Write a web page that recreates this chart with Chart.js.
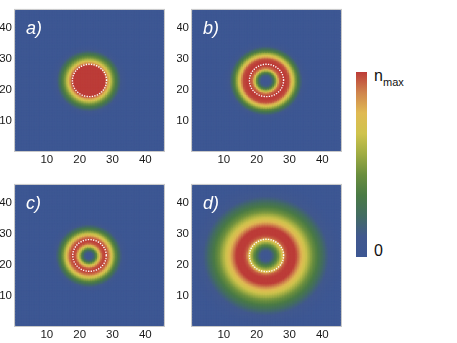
<!DOCTYPE html>
<html>
<head>
<meta charset="utf-8">
<script src="https://cdn.jsdelivr.net/npm/chart.js@4.4.1/dist/chart.umd.min.js"></script>
<style>
  body { margin: 0; background: #fff; }
  #wrap { position: relative; width: 457px; height: 343px; overflow: hidden; font-family: "Liberation Sans", Arial, sans-serif; }
  #wrap canvas { position: absolute; }
  .cb-label { position: absolute; color: #111; white-space: nowrap; }
</style>
</head>
<body>
<div id="wrap">
  <canvas id="panelA" width="167" height="168" style="left:0px;top:0px"></canvas>
  <canvas id="panelB" width="167" height="168" style="left:177px;top:0px"></canvas>
  <canvas id="panelC" width="167" height="168" style="left:0px;top:175px"></canvas>
  <canvas id="panelD" width="167" height="168" style="left:177px;top:175px"></canvas>
  <canvas id="colorBar" width="11" height="185" style="left:356px;top:72px"></canvas>
  <div class="cb-label" style="left:374px;top:68px;font-size:16px;line-height:16px">n</div>
  <div class="cb-label" style="left:383px;top:77px;font-size:11px;line-height:11px">max</div>
  <div class="cb-label" style="left:374px;top:243px;font-size:16px;line-height:16px">0</div>
</div>
<script>
// Radial density profiles (fraction of n_max)
const radii    = [0, 1, 2, 3, 4, 5, 6, 7, 8, 9, 10, 11, 12, 13, 14, 15, 16, 17, 18, 19, 20, 21, 22, 23, 24];
const densityA = [1, 1, 1, 1, 1, 1, 0.8, 0.55, 0.38, 0.22, 0.09, 0.03, 0, 0, 0, 0, 0, 0, 0, 0, 0, 0, 0, 0, 0];
const densityB = [0.04, 0.07, 0.18, 0.5, 0.92, 1, 1, 0.97, 0.74, 0.5, 0.28, 0.12, 0.04, 0.01, 0, 0, 0, 0, 0, 0, 0, 0, 0, 0, 0];
const densityC = [0.03, 0.08, 0.3, 0.68, 0.96, 1, 0.92, 0.68, 0.45, 0.26, 0.12, 0.04, 0.01, 0, 0, 0, 0, 0, 0, 0, 0, 0, 0, 0, 0];
const densityD = [0.03, 0.06, 0.15, 0.32, 0.5, 0.72, 0.95, 1, 1, 1, 0.9, 0.78, 0.68, 0.58, 0.48, 0.4, 0.32, 0.25, 0.18, 0.12, 0.08, 0.05, 0.03, 0.01, 0];

const panelLabels = ["a)", "b)", "c)", "d)"];
const ringRadius = [5.2, 5.2, 5.1, 5.2];
const tickValues = [10, 20, 30, 40];
const gridSize = 45;     // lattice sites per side
const siteCenter = 23;   // centre of the condensate
const colorBarValue = [1];

// DarkRainbow-like colour map
const colorStops = [
  [0.000, [61, 87, 147]],
  [0.111, [65, 88, 142]],
  [0.222, [67, 108, 98]],
  [0.333, [74, 122, 69]],
  [0.444, [106, 142, 62]],
  [0.556, [159, 172, 67]],
  [0.667, [207, 195, 77]],
  [0.778, [224, 186, 83]],
  [0.889, [207, 132, 77]],
  [1.000, [188, 60, 56]]
];

function colorFor(v) {
  v = Math.max(0, Math.min(1, v));
  for (let i = 1; i < colorStops.length; i++) {
    const [p1, c1] = colorStops[i];
    const [p0, c0] = colorStops[i - 1];
    if (v <= p1) {
      const t = (v - p0) / (p1 - p0);
      const c = c0.map((a, k) => Math.round(a + (c1[k] - a) * t));
      return `rgb(${c[0]},${c[1]},${c[2]})`;
    }
  }
  const c = colorStops[colorStops.length - 1][1];
  return `rgb(${c[0]},${c[1]},${c[2]})`;
}

function profileAt(profile, r) {
  const last = radii.length - 1;
  if (r >= radii[last]) return profile[last];
  let i = 0;
  while (radii[i + 1] < r) i++;
  const t = (r - radii[i]) / (radii[i + 1] - radii[i]);
  return profile[i] + (profile[i + 1] - profile[i]) * t;
}

const framePlugin = {
  id: "frame",
  afterDraw(chart) {
    const { ctx, chartArea: a } = chart;
    ctx.save();
    ctx.strokeStyle = "#c8c8c8";
    ctx.lineWidth = 1;
    ctx.strokeRect(a.left + 0.5, a.top + 0.5, a.right - a.left - 1, a.bottom - a.top - 1);
    ctx.restore();
  }
};

function axisOpts(isX) {
  return {
    type: "linear",
    min: 0,
    max: 46,
    grid: { display: false, drawTicks: false },
    border: { display: false },
    ticks: {
      font: { family: "Liberation Sans", size: 11.5 },
      color: "#1a1a1a",
      padding: isX ? 1 : 2,
      maxRotation: 0,
      autoSkip: false
    },
    afterBuildTicks: (scale) => { scale.ticks = tickValues.map(v => ({ value: v })); },
    afterFit: (scale) => {
      if (isX) scale.height = 16;
      else scale.width = 14;
    }
  };
}

function makePanel(id, profile, label, ring) {
  const n = gridSize * 2;   // half-site cells
  const cells = [];
  const colors = [];
  for (let i = 0; i < n; i++) {
    for (let j = 0; j < n; j++) {
      const x = 0.75 + i * 0.5;
      const y = 0.75 + j * 0.5;
      const r = Math.hypot(x - siteCenter, y - siteCenter);
      cells.push({ x: x, y: y });
      colors.push(colorFor(profileAt(profile, r)));
    }
  }

  // dotted white circle
  const ringPts = [];
  for (let k = 0; k <= 200; k++) {
    const a = k / 200 * 2 * Math.PI;
    ringPts.push({ x: siteCenter + ring * Math.cos(a), y: siteCenter + ring * Math.sin(a) });
  }

  const labelPlugin = {
    id: "panelLabel",
    afterDatasetsDraw(chart) {
      const { ctx, chartArea: a } = chart;
      ctx.save();
      ctx.fillStyle = "#fff";
      ctx.font = 'italic 18px "Liberation Sans"';
      ctx.textBaseline = "alphabetic";
      ctx.fillText(label, a.left + 12, a.top + 25);
      ctx.restore();
    }
  };

  new Chart(document.getElementById(id), {
    type: "scatter",
    data: {
      datasets: [
        {
          data: ringPts,
          showLine: true,
          borderColor: "#fff",
          borderWidth: 1.4,
          borderDash: [1.3, 1.3],
          pointRadius: 0,
          fill: false
        },
        {
          data: cells,
          pointStyle: "rect",
          pointRadius: 1.9,
          pointHoverRadius: 1.9,
          pointBorderWidth: 0,
          pointBorderColor: colors,
          pointBackgroundColor: colors
        }
      ]
    },
    options: {
      responsive: false,
      animation: false,
      events: [],
      layout: { padding: { top: 2, right: 2, left: 0, bottom: 0 } },
      plugins: { legend: { display: false }, tooltip: { enabled: false } },
      scales: { x: axisOpts(true), y: axisOpts(false) }
    },
    plugins: [labelPlugin, framePlugin]
  });
}

makePanel("panelA", densityA, panelLabels[0], ringRadius[0]);
makePanel("panelB", densityB, panelLabels[1], ringRadius[1]);
makePanel("panelC", densityC, panelLabels[2], ringRadius[2]);
makePanel("panelD", densityD, panelLabels[3], ringRadius[3]);

// Colour bar
new Chart(document.getElementById("colorBar"), {
  type: "bar",
  data: {
    labels: [""],
    datasets: [{
      data: colorBarValue,
      borderWidth: 0,
      barPercentage: 1,
      categoryPercentage: 1,
      backgroundColor: (ctx) => {
        const area = ctx.chart.chartArea;
        if (!area) return colorFor(0.5);
        const g = ctx.chart.ctx.createLinearGradient(0, area.bottom, 0, area.top);
        colorStops.forEach(([p]) => g.addColorStop(p, colorFor(p)));
        return g;
      }
    }]
  },
  options: {
    responsive: false,
    animation: false,
    events: [],
    layout: { padding: 0 },
    plugins: { legend: { display: false }, tooltip: { enabled: false } },
    scales: {
      x: { display: false },
      y: { display: false, min: 0, max: 1 }
    }
  }
});
</script>
</body>
</html>
